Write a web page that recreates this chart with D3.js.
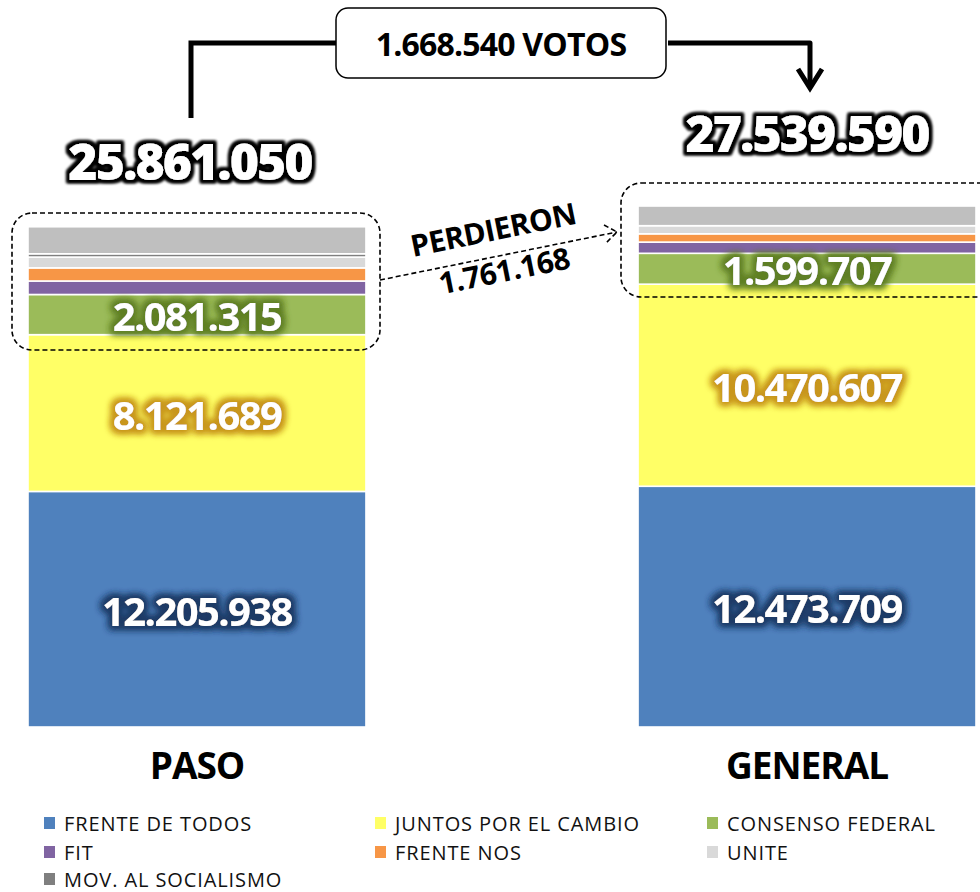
<!DOCTYPE html>
<html>
<head>
<meta charset="utf-8">
<script src="https://cdn.jsdelivr.net/npm/d3@7"></script>
<style>
  body { margin: 0; background: #fff; }
  text { font-family: "Open Sans", "DejaVu Sans", sans-serif; }
</style>
</head>
<body>
<div id="chart"></div>
<script>
// categories and series values (votes)
const categories = ["PASO", "GENERAL"];
const totals = ["25.861.050", "27.539.590"];
const frenteDeTodos = [12205938, 12473709];
const juntosPorElCambio = [8121689, 10470607];
const consensoFederal = [2081315, 1599707];
const fit = [700000, 580000];
const frenteNos = [680000, 430000];
const unite = [560000, 420000];
const movSocialismo = [170000, 0];
const otros = [1400000, 1020000];

const seriesNames = ["FRENTE DE TODOS", "JUNTOS POR EL CAMBIO", "CONSENSO FEDERAL",
  "FIT", "FRENTE NOS", "UNITE", "MOV. AL SOCIALISMO", "OTROS"];
const seriesValues = [frenteDeTodos, juntosPorElCambio, consensoFederal,
  fit, frenteNos, unite, movSocialismo, otros];
const colors = ["#4f81bd", "#ffff66", "#9bbb59", "#8064a2", "#f79646", "#d9d9d9", "#7f7f7f", "#bfbfbf"];
const glowColors = ["#1f3b66", "#c8961e", "#5f7f25"];
const legendNames = seriesNames.slice(0, 7);

const diffLabel = "1.668.540 VOTOS";
const lostLabel = ["PERDIERON", "1.761.168"];

const width = 980, height = 892;

const svg = d3.select("#chart").append("svg")
  .attr("width", width).attr("height", height);

const defs = svg.append("defs");

// glow filter: dilate the text alpha, blur it, color it, put the text on top
function glow(id, color, radius, blur) {
  const f = defs.append("filter").attr("id", id)
    .attr("x", "-20%").attr("y", "-40%").attr("width", "140%").attr("height", "180%");
  f.append("feMorphology").attr("in", "SourceAlpha").attr("operator", "dilate").attr("radius", radius).attr("result", "d");
  f.append("feGaussianBlur").attr("in", "d").attr("stdDeviation", blur).attr("result", "b");
  f.append("feFlood").attr("flood-color", color).attr("result", "c");
  f.append("feComposite").attr("in", "c").attr("in2", "b").attr("operator", "in").attr("result", "g");
  const m = f.append("feMerge");
  m.append("feMergeNode").attr("in", "g");
  m.append("feMergeNode").attr("in", "g");
  m.append("feMergeNode").attr("in", "SourceGraphic");
}
glow("glowBlack", "#000", 2.5, 1.8);
glowColors.forEach((c, i) => glow("glow" + i, c, 3, 3.5));

const data = categories.map((c, i) => {
  const row = { cat: c };
  seriesNames.forEach((s, j) => row[s] = seriesValues[j][i]);
  return row;
});

const x = d3.scaleBand()
  .domain(categories)
  .range([28, 976])
  .paddingInner(0.446)
  .paddingOuter(0);

const y = d3.scaleLinear()
  .domain([0, 28000000])
  .range([727, 727 - 28 * 19.3]);

const color = d3.scaleOrdinal().domain(seriesNames).range(colors);

const stacked = d3.stack().keys(seriesNames)(data);

svg.append("g")
  .selectAll("g")
  .data(stacked)
  .join("g")
  .attr("fill", d => color(d.key))
  .selectAll("rect")
  .data(d => d)
  .join("rect")
  .attr("x", d => x(d.data.cat))
  .attr("y", d => y(d[1]))
  .attr("width", x.bandwidth())
  .attr("height", d => Math.max(0, y(d[0]) - y(d[1])))
  .attr("stroke", "#fff")
  .attr("stroke-width", d => (d[1] - d[0]) > 0 ? 1.6 : 0);

// value labels for the three big parties
stacked.slice(0, 3).forEach((s, i) => {
  svg.append("g")
    .selectAll("text")
    .data(s)
    .join("text")
    .attr("x", d => x(d.data.cat) + x.bandwidth() / 2)
    .attr("y", d => (y(d[0]) + y(d[1])) / 2 + 1)
    .attr("text-anchor", "middle")
    .attr("dominant-baseline", "central")
    .attr("font-size", 40)
    .attr("font-weight", 700)
    .attr("letter-spacing", -1.6)
    .attr("fill", "#fff")
    .attr("filter", `url(#glow${i})`)
    .text(d => d3.format(",")(d[1] - d[0]).replace(/,/g, "."));
});

// category labels
svg.append("g")
  .selectAll("text")
  .data(categories)
  .join("text")
  .attr("x", d => x(d) + x.bandwidth() / 2)
  .attr("y", 779)
  .attr("text-anchor", "middle")
  .attr("font-size", 37)
  .attr("font-weight", 700)
  .attr("letter-spacing", -1)
  .text(d => d);

// totals above bars
const totalY = [161, 133];
const totalDx = [-7, 0];
svg.append("g")
  .selectAll("text")
  .data(totals)
  .join("text")
  .attr("x", (d, i) => x(categories[i]) + x.bandwidth() / 2 + totalDx[i])
  .attr("y", (d, i) => totalY[i])
  .attr("text-anchor", "middle")
  .attr("dominant-baseline", "central")
  .attr("font-size", 50)
  .attr("font-weight", 800)
  .attr("letter-spacing", -2)
  .attr("fill", "#fff")
  .attr("filter", "url(#glowBlack)")
  .text(d => d);

// connector between totals
const conn = svg.append("g").attr("fill", "none").attr("stroke", "#000").attr("stroke-width", 5);
conn.append("path").attr("d", "M191,118 V43 H338");
conn.append("path").attr("d", "M668,43 H810 V86").attr("stroke-linejoin", "round");
conn.append("path").attr("d", "M798,69 L810,88 L822,69").attr("stroke-linejoin", "miter");

svg.append("rect")
  .attr("x", 336).attr("y", 8).attr("width", 330).attr("height", 70)
  .attr("rx", 12)
  .attr("fill", "#fff").attr("stroke", "#000").attr("stroke-width", 1.5);
svg.append("text")
  .attr("x", 501).attr("y", 43)
  .attr("text-anchor", "middle").attr("dominant-baseline", "central")
  .attr("font-size", 32).attr("font-weight", 700).attr("letter-spacing", -0.8)
  .text(diffLabel);

// dashed highlight boxes around small parties
const dash = svg.append("g").attr("fill", "none").attr("stroke", "#000")
  .attr("stroke-width", 1.6).attr("stroke-dasharray", "5,3");
dash.append("rect").attr("x", 12).attr("y", 213).attr("width", 368).attr("height", 137).attr("rx", 20);
dash.append("rect").attr("x", 621).attr("y", 183).attr("width", 380).attr("height", 114).attr("rx", 20);
dash.append("path").attr("d", "M380,280 L617,232");
dash.append("path").attr("d", "M604,225 L617,232 L606,243").attr("stroke-dasharray", null);

// "PERDIERON" annotation, tilted along the arrow
const ang = Math.atan2(232 - 280, 617 - 380) * 180 / Math.PI;
svg.append("text")
  .attr("transform", `translate(493,229) rotate(${ang})`)
  .attr("text-anchor", "middle").attr("dominant-baseline", "central")
  .attr("font-size", 30).attr("font-weight", 700).attr("letter-spacing", -0.5)
  .text(lostLabel[0]);
svg.append("text")
  .attr("transform", `translate(504,270) rotate(${ang})`)
  .attr("text-anchor", "middle").attr("dominant-baseline", "central")
  .attr("font-size", 30).attr("font-weight", 700).attr("letter-spacing", -0.5)
  .text(lostLabel[1]);

// legend
const legendX = [44, 375, 707];
const legendY = [823, 852, 879];
const legend = svg.append("g")
  .selectAll("g")
  .data(legendNames)
  .join("g")
  .attr("transform", (d, i) => `translate(${legendX[i % 3]},${legendY[Math.floor(i / 3)]})`);
legend.append("rect")
  .attr("x", 0).attr("y", -6).attr("width", 11).attr("height", 12)
  .attr("fill", d => color(d));
legend.append("text")
  .attr("x", 20).attr("y", 0)
  .attr("dominant-baseline", "central")
  .attr("font-size", 20)
  .attr("letter-spacing", 0.9)
  .attr("fill", "#111")
  .text(d => d);
</script>
</body>
</html>
